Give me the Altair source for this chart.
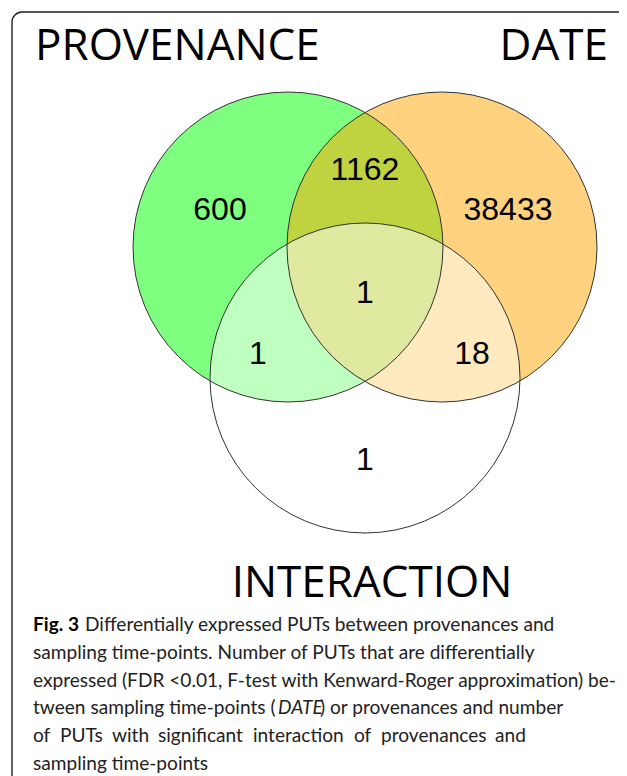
import altair as alt
import pandas as pd

# ---------------- data ----------------
set_names = ["PROVENANCE", "DATE", "INTERACTION"]
set_fills = ["#00FF00", "#FFA500", "#FFFFFF"]
region_keys = ["P only", "P&D", "D only", "P&D&I", "P&I", "D&I", "I only"]
region_counts = [600, 1162, 38433, 1, 1, 18, 1]

caption_bold = "Fig. 3"
caption_line1 = "Differentially expressed PUTs between provenances and"
caption_line2 = "sampling time-points. Number of PUTs that are differentially"
caption_line3 = "expressed (FDR <0.01, F-test with Kenward-Roger approximation) be-"
caption_line4 = ["tween sampling time-points (", "DATE", ") or provenances and number"]
caption_line5 = ["of", "PUTs", "with", "significant", "interaction", "of", "provenances", "and"]
caption_line6 = "sampling time-points"

# ---------------- layout (image pixel coordinates) ----------------
W, H = 611, 768
X0, Y0 = 8, 8
R = 155
set_cx = [288, 442, 365]
set_cy = [247, 247, 378]
label_x = [35, 608, 372]
label_y = [60, 60, 597]
label_align = ["left", "right", "center"]
region_x = [220, 365, 508, 365, 258, 472, 365]
region_y = [220, 180, 220, 303, 364, 364, 470]
cap_x0 = 33
cap_y0 = 631
cap_dy = 27.8
cap_size = 19.1
line1_x = 85
line4_x = [cap_x0, 278, 320]
line5_x = [33, 60, 112, 158, 253, 354, 381, 495]

xs = alt.Scale(domain=[X0, X0 + W], nice=False, zero=False)
ys = alt.Scale(domain=[Y0, Y0 + H], nice=False, zero=False, reverse=True)
X = lambda f: alt.X(f, type="quantitative", scale=xs, axis=None)
Y = lambda f: alt.Y(f, type="quantitative", scale=ys, axis=None)

sym = (2 * R) ** 2   # Vega circle symbol: diameter = sqrt(size)
circles = pd.DataFrame({
    "name": set_names, "fill": set_fills,
    "x": set_cx, "y": set_cy, "size": [sym] * 3, "order": [0, 1, 2],
})

fills = alt.Chart(circles).mark_circle(fillOpacity=0.5, strokeWidth=0).encode(
    x=X("x"), y=Y("y"),
    color=alt.Color("fill:N", scale=None),
    size=alt.Size("size:Q", scale=None),
    order=alt.Order("order:Q"),
)
outlines = alt.Chart(circles).mark_point(
    shape="circle", filled=False, stroke="#333333", strokeWidth=1, opacity=1
).encode(x=X("x"), y=Y("y"), size=alt.Size("size:Q", scale=None))

labels_df = pd.DataFrame({"t": set_names, "x": label_x, "y": label_y})
set_labels = alt.layer(*[
    alt.Chart(labels_df.iloc[[i]]).mark_text(
        font="Open Sans", fontSize=44, align=label_align[i], baseline="alphabetic", color="#000000"
    ).encode(x=X("x"), y=Y("y"), text="t:N")
    for i in range(3)
])

regions_df = pd.DataFrame({
    "k": region_keys, "n": [str(v) for v in region_counts], "x": region_x, "y": region_y,
})
region_labels = alt.Chart(regions_df).mark_text(
    font="Liberation Sans", fontSize=32, align="center", baseline="alphabetic", color="#000000"
).encode(x=X("x"), y=Y("y"), text="n:N")

box_df = pd.DataFrame({"x": [12], "x2": [660], "y": [12], "y2": [830]})
box = alt.Chart(box_df).mark_rect(
    fill=None, fillOpacity=0, stroke="#222222", strokeWidth=1.4, cornerRadius=10, clip=True
).encode(x=X("x"), x2="x2", y=Y("y"), y2="y2")

# caption: plain segments
plain = [
    (caption_line1, line1_x, cap_y0),
    (caption_line2, cap_x0, cap_y0 + cap_dy),
    (caption_line3, cap_x0, cap_y0 + 2 * cap_dy),
    (caption_line4[0], line4_x[0], cap_y0 + 3 * cap_dy),
    (caption_line4[2], line4_x[2], cap_y0 + 3 * cap_dy),
    (caption_line6, cap_x0, cap_y0 + 5 * cap_dy),
]
plain += [(w, line5_x[i], cap_y0 + 4 * cap_dy) for i, w in enumerate(caption_line5)]
cap_df = pd.DataFrame(plain, columns=["t", "x", "y"])
caption = alt.Chart(cap_df).mark_text(
    font="Lato", fontSize=cap_size, align="left", baseline="alphabetic", color="#222222"
).encode(x=X("x"), y=Y("y"), text="t:N")

cap_bold = alt.Chart(pd.DataFrame({"t": [caption_bold], "x": [cap_x0], "y": [cap_y0]})).mark_text(
    font="Lato", fontSize=cap_size, fontWeight="bold", align="left", baseline="alphabetic", color="#000000"
).encode(x=X("x"), y=Y("y"), text="t:N")

cap_italic = alt.Chart(pd.DataFrame({"t": [caption_line4[1]], "x": [line4_x[1]], "y": [cap_y0 + 3 * cap_dy]})).mark_text(
    font="Lato", fontSize=cap_size, fontStyle="italic", align="left", baseline="alphabetic", color="#222222"
).encode(x=X("x"), y=Y("y"), text="t:N")

chart = alt.layer(box, fills, outlines, set_labels, region_labels, caption, cap_bold, cap_italic).properties(
    width=W, height=H, padding=0, autosize=alt.AutoSizeParams(type="none"), background="#FFFFFF"
).configure_view(stroke=None)

chart.save("out.html", embed_options={"renderer": "svg", "actions": False})
